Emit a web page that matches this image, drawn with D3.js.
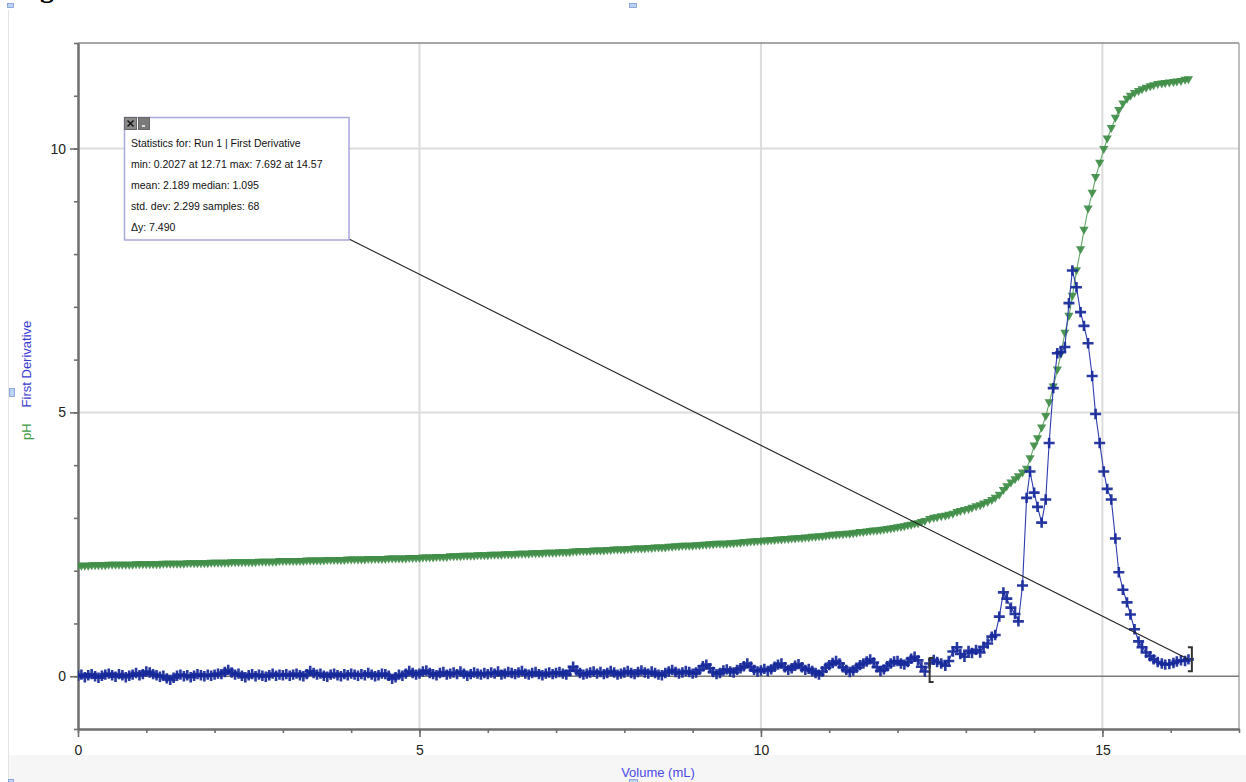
<!DOCTYPE html>
<html><head><meta charset="utf-8">
<script src="https://cdn.jsdelivr.net/npm/d3@7"></script>
<style>html,body{margin:0;padding:0;background:#fff;overflow:hidden;} svg{display:block;}</style>
</head><body>
<svg id="chart" width="1246" height="782"></svg>
<script>
// ---------- DATA ----------
const volume = [
0,0.05,0.1,0.15,0.2,0.25,0.3,0.35,0.4,0.45,0.5,0.55,0.6,0.65,0.7,0.75,0.8,0.85,0.9,0.95,
1,1.05,1.1,1.15,1.2,1.25,1.3,1.35,1.4,1.45,1.5,1.55,1.6,1.65,1.7,1.75,1.8,1.85,1.9,1.95,
2,2.05,2.1,2.15,2.2,2.25,2.3,2.35,2.4,2.45,2.5,2.55,2.6,2.65,2.7,2.75,2.8,2.85,2.9,2.95,
3,3.05,3.1,3.15,3.2,3.25,3.3,3.35,3.4,3.45,3.5,3.55,3.6,3.65,3.7,3.75,3.8,3.85,3.9,3.95,
4,4.05,4.1,4.15,4.2,4.25,4.3,4.35,4.4,4.45,4.5,4.55,4.6,4.65,4.7,4.75,4.8,4.85,4.9,4.95,
5,5.05,5.1,5.15,5.2,5.25,5.3,5.35,5.4,5.45,5.5,5.55,5.6,5.65,5.7,5.75,5.8,5.85,5.9,5.95,
6,6.05,6.1,6.15,6.2,6.25,6.3,6.35,6.4,6.45,6.5,6.55,6.6,6.65,6.7,6.75,6.8,6.85,6.9,6.95,
7,7.05,7.1,7.15,7.2,7.25,7.3,7.35,7.4,7.45,7.5,7.55,7.6,7.65,7.7,7.75,7.8,7.85,7.9,7.95,
8,8.05,8.1,8.15,8.2,8.25,8.3,8.35,8.4,8.45,8.5,8.55,8.6,8.65,8.7,8.75,8.8,8.85,8.9,8.95,
9,9.05,9.1,9.15,9.2,9.25,9.3,9.35,9.4,9.45,9.5,9.55,9.6,9.65,9.7,9.75,9.8,9.85,9.9,9.95,
10,10.05,10.1,10.15,10.2,10.25,10.3,10.35,10.4,10.45,10.5,10.55,10.6,10.65,10.7,10.75,10.8,10.85,10.9,10.95,
11,11.05,11.1,11.15,11.2,11.25,11.3,11.35,11.4,11.45,11.5,11.55,11.6,11.65,11.7,11.75,11.8,11.85,11.9,11.95,
12,12.05,12.1,12.15,12.2,12.25,12.3,12.35,12.4,
12.47,12.53,12.58,12.64,12.7,12.75,12.81,12.87,12.92,12.98,
13.04,13.09,13.15,13.21,13.26,13.32,13.38,13.43,13.49,13.55,
13.6,13.66,13.72,13.77,13.83,13.89,13.94,14,14.05,14.11,
14.17,14.22,14.28,14.34,14.39,14.45,14.51,14.56,14.62,14.68,
14.73,14.79,14.85,14.9,14.96,15.02,15.07,15.13,15.19,15.24,
15.3,15.36,15.41,15.47,15.53,15.58,15.64,15.7,15.75,15.81,
15.87,15.92,15.98,16.04,16.09,16.15,16.21,16.26
];
const pH = [
2.08,2.08,2.08,2.08,2.09,2.09,2.09,2.09,2.09,2.10,2.10,2.10,2.10,2.10,2.10,2.10,2.10,2.11,2.11,2.11,
2.11,2.11,2.11,2.11,2.11,2.12,2.12,2.12,2.12,2.12,2.12,2.12,2.13,2.13,2.13,2.13,2.13,2.13,2.13,2.14,
2.14,2.14,2.14,2.14,2.14,2.15,2.15,2.15,2.15,2.15,2.15,2.15,2.15,2.16,2.16,2.16,2.16,2.16,2.16,2.17,
2.17,2.17,2.17,2.17,2.17,2.17,2.17,2.18,2.18,2.18,2.18,2.18,2.18,2.19,2.19,2.19,2.19,2.19,2.19,2.20,
2.20,2.20,2.20,2.20,2.20,2.21,2.21,2.21,2.21,2.21,2.21,2.22,2.22,2.22,2.22,2.22,2.22,2.23,2.23,2.23,
2.23,2.24,2.24,2.24,2.24,2.25,2.25,2.25,2.25,2.26,2.26,2.26,2.26,2.27,2.27,2.27,2.27,2.28,2.28,2.28,
2.28,2.29,2.29,2.29,2.29,2.30,2.30,2.30,2.30,2.31,2.31,2.31,2.31,2.32,2.32,2.32,2.32,2.33,2.33,2.33,
2.33,2.34,2.34,2.34,2.34,2.35,2.35,2.36,2.36,2.36,2.36,2.37,2.37,2.37,2.37,2.38,2.38,2.39,2.39,2.39,
2.39,2.40,2.40,2.41,2.41,2.41,2.41,2.42,2.42,2.43,2.43,2.43,2.43,2.44,2.44,2.45,2.45,2.46,2.46,2.46,
2.46,2.47,2.47,2.48,2.48,2.49,2.49,2.50,2.50,2.50,2.50,2.51,2.51,2.52,2.52,2.53,2.53,2.54,2.54,2.55,
2.55,2.56,2.56,2.57,2.57,2.58,2.58,2.59,2.59,2.60,2.60,2.61,2.61,2.62,2.62,2.63,2.63,2.64,2.64,2.65,
2.66,2.67,2.67,2.68,2.68,2.69,2.69,2.70,2.71,2.72,2.72,2.73,2.74,2.75,2.75,2.76,2.77,2.78,2.79,2.80,
2.81,2.82,2.83,2.85,2.86,2.88,2.89,2.91,2.93,
2.97,2.99,3.00,3.02,3.03,3.05,3.07,3.10,3.12,3.14,
3.16,3.18,3.21,3.23,3.26,3.29,3.33,3.37,3.43,3.52,
3.59,3.66,3.72,3.78,3.85,3.92,4.12,4.36,4.50,4.70,
4.92,5.18,5.48,5.80,6.10,6.50,6.82,7.20,7.68,8.08,
8.45,8.85,9.15,9.45,9.72,9.98,10.18,10.38,10.57,10.72,
10.84,10.93,10.99,11.04,11.08,11.11,11.14,11.17,11.19,11.21,
11.22,11.23,11.24,11.25,11.26,11.27,11.29,11.30
];
const firstDerivative = [
0.01,0.03,-0.02,0.02,0.04,0.00,-0.03,0.01,0.03,0.05,0.02,-0.01,0.04,0.02,-0.02,0.01,0.03,0.06,0.02,0.04,
0.09,0.07,0.04,0.02,-0.01,0.01,-0.04,-0.07,-0.03,0.01,0.03,0.00,0.02,-0.02,0.01,0.04,0.02,0.00,0.03,0.01,
0.03,0.05,0.04,0.08,0.12,0.07,0.03,0.05,0.01,-0.02,0.02,0.04,0.00,0.03,0.01,-0.01,0.02,0.05,0.01,0.03,
0.02,0.04,0.01,0.03,0.05,0.02,0.00,0.04,0.10,0.06,0.03,0.05,0.01,-0.01,0.03,0.05,0.02,0.00,0.04,0.02,
0.05,0.03,0.01,0.04,0.02,0.06,0.03,0.00,0.02,0.05,0.04,0.01,-0.05,-0.02,0.03,0.01,0.05,0.10,0.06,0.03,
0.05,0.09,0.11,0.06,0.04,0.02,0.06,0.08,0.03,0.05,0.07,0.04,0.09,0.05,0.01,0.04,0.07,0.05,0.03,0.06,
0.04,0.07,0.05,0.09,0.03,0.05,0.08,0.06,0.04,0.07,0.10,0.05,0.03,0.06,0.08,0.04,0.02,0.05,0.07,0.04,
0.06,0.08,0.05,0.03,0.10,0.18,0.11,0.06,0.03,0.05,0.07,0.09,0.05,0.08,0.04,0.06,0.10,0.07,0.03,0.05,
0.07,0.10,0.06,0.04,0.08,0.11,0.07,0.05,0.09,0.06,0.03,0.02,0.06,0.09,0.12,0.08,0.05,0.07,0.10,0.08,
0.05,0.07,0.12,0.19,0.22,0.15,0.08,0.04,0.06,0.11,0.13,0.09,0.07,0.12,0.15,0.19,0.24,0.18,0.12,0.09,
0.11,0.14,0.10,0.13,0.18,0.22,0.24,0.17,0.12,0.15,0.20,0.23,0.17,0.12,0.14,0.10,0.06,0.03,0.09,0.16,
0.21,0.25,0.29,0.24,0.17,0.12,0.08,0.11,0.16,0.21,0.24,0.28,0.32,0.26,0.17,0.10,0.13,0.19,0.24,0.28,
0.29,0.24,0.22,0.27,0.33,0.37,0.30,0.18,0.09,
0.24,0.31,0.27,0.24,0.20,0.29,0.47,0.55,0.42,0.37,
0.48,0.44,0.50,0.45,0.56,0.62,0.75,0.78,1.13,1.59,
1.47,1.30,1.18,1.04,1.72,3.38,3.88,3.48,3.21,2.91,
3.35,4.42,5.46,6.12,6.14,6.24,7.07,7.69,7.37,6.90,
6.64,6.31,5.69,4.97,4.42,3.88,3.55,3.35,2.61,1.97,
1.64,1.40,1.17,0.89,0.66,0.55,0.45,0.38,0.32,0.27,
0.24,0.22,0.23,0.25,0.28,0.30,0.29,0.32
];
const xMajorTicks = [0, 5, 10, 15];
const xMinorTicks = [0,1,2,3,4,5,6,7,8,9,10,11,12,13,14,15,16,17];
const yMajorTicks = [0, 5, 10];
const yMinorTicks = [-1,0,1,2,3,4,5,6,7,8,9,10,11,12];
const xDomain = [0, 17];
const yDomain = [-1, 12];
const xLabel = "Volume (mL)";
const yLabelPH = "pH";
const yLabelDeriv = "First Derivative";
const selection = [12.47, 16.26];
const statsLines = [
  "Statistics for: Run 1 | First Derivative",
  "min: 0.2027 at 12.71 max: 7.692 at 14.57",
  "mean: 2.189 median: 1.095",
  "std. dev: 2.299 samples: 68",
  "\u0394y: 7.490"
];
const titleText = "Figure 1";

// ---------- DRAW ----------
(function () {
const svg = d3.select("#chart");
const W = 1246, H = 782;
const pL = 78, pR = 1239, pT = 43, pB = 729;
const FONT = "'Liberation Sans', Arial, Helvetica, sans-serif";

const x = d3.scaleLinear().domain(xDomain).range([pL, pR]);
const y = d3.scaleLinear().domain(yDomain).range([pB, pT]);

// page decorations
svg.append("rect").attr("x", 8).attr("y", 755).attr("width", W - 8).attr("height", H - 755).attr("fill", "#f6f6f6");
svg.append("line").attr("x1", 8.5).attr("x2", 8.5).attr("y1", 10).attr("y2", H).attr("stroke", "#e4e4e4").attr("stroke-width", 1);
svg.append("text").attr("x", 15).attr("y", -3).attr("font-family", "'Liberation Serif', 'DejaVu Serif', serif")
  .attr("font-weight", "bold").attr("font-size", 28).attr("fill", "#000").text(titleText);
[[7,3,6,4],[629,3,7,4],[9,388,5,8],[629,779,8,4],[8,779,5,3]].forEach(r => {
  svg.append("rect").attr("x", r[0] + 0.5).attr("y", r[1] + 0.5).attr("width", r[2]).attr("height", r[3])
    .attr("fill", "#bcd3f3").attr("stroke", "#7b97d6").attr("stroke-width", 0.8);
});

// grid
const grid = svg.append("g");
grid.selectAll(".gx").data(xMajorTicks.filter(d => d > 0)).join("line")
  .attr("x1", d => x(d)).attr("x2", d => x(d)).attr("y1", pT).attr("y2", pB)
  .attr("stroke", "#dcdcdc").attr("stroke-width", 2);
grid.selectAll(".gy").data(yMajorTicks.filter(d => d > 0)).join("line")
  .attr("x1", pL).attr("x2", pR).attr("y1", d => y(d)).attr("y2", d => y(d))
  .attr("stroke", "#dcdcdc").attr("stroke-width", 2);

// frame top/right
svg.append("line").attr("x1", pL).attr("x2", pR).attr("y1", pT).attr("y2", pT).attr("stroke", "#8a8a8a").attr("stroke-width", 1.5);
svg.append("line").attr("x1", pR).attr("x2", pR).attr("y1", pT).attr("y2", pB).attr("stroke", "#a8a8a8").attr("stroke-width", 1.5);

// zero line
svg.append("line").attr("x1", pL).attr("x2", pR).attr("y1", y(0)).attr("y2", y(0))
  .attr("stroke", "#7a7a7a").attr("stroke-width", 1.6);

// axes
function styleAxis(g) {
  g.select(".domain").attr("stroke", "#6e6e6e").attr("stroke-width", 2);
  g.selectAll(".tick line").attr("stroke", "#6e6e6e").attr("stroke-width", 1.6);
  g.selectAll(".tick text").attr("font-family", FONT).attr("font-size", 14).attr("fill", "#222");
}
const xMinor = svg.append("g").attr("transform", `translate(0,${pB})`)
  .call(d3.axisBottom(x).tickValues(xMinorTicks).tickSize(4).tickFormat("").tickSizeOuter(0));
styleAxis(xMinor);
const xMajor = svg.append("g").attr("transform", `translate(0,${pB})`)
  .call(d3.axisBottom(x).tickValues(xMajorTicks).tickSize(8).tickPadding(8).tickFormat(d3.format("d")).tickSizeOuter(0));
styleAxis(xMajor);
const yMinor = svg.append("g").attr("transform", `translate(${pL},0)`)
  .call(d3.axisLeft(y).tickValues(yMinorTicks).tickSize(4).tickFormat("").tickSizeOuter(0));
styleAxis(yMinor);
const yMajor = svg.append("g").attr("transform", `translate(${pL},0)`)
  .call(d3.axisLeft(y).tickValues(yMajorTicks).tickSize(8).tickPadding(4).tickFormat(d3.format("d")).tickSizeOuter(0));
styleAxis(yMajor);

// axis labels
svg.append("text").attr("x", 658).attr("y", 777).attr("text-anchor", "middle")
  .attr("font-family", FONT).attr("font-size", 13).attr("fill", "#4a4ae6").text(xLabel);
const yl = svg.append("text").attr("transform", "translate(31,440) rotate(-90)")
  .attr("font-family", FONT).attr("font-size", 13);
yl.append("tspan").attr("fill", "#3f9a45").text(yLabelPH);
yl.append("tspan").attr("dx", 16).attr("fill", "#3a3ad2").text(yLabelDeriv);

// clip
svg.append("clipPath").attr("id", "plotclip").append("rect")
  .attr("x", pL).attr("y", pT).attr("width", pR - pL).attr("height", pB - pT);
const plot = svg.append("g").attr("clip-path", "url(#plotclip)");

const idx = d3.range(volume.length);

// pH series
const phLine = d3.line().x(i => x(volume[i])).y(i => y(pH[i]));
plot.append("path").datum(idx).attr("d", phLine).attr("fill", "none")
  .attr("stroke", "#63a868").attr("stroke-width", 1.1);
plot.append("g").selectAll("path").data(idx).join("path")
  .attr("transform", i => `translate(${x(volume[i])},${y(pH[i])})`)
  .attr("d", "M-4.6,-3.6L4.6,-3.6L0,4.4Z")
  .attr("fill", "#3f8d47").attr("fill-opacity", 0.92);

// derivative series
const dLine = d3.line().x(i => x(volume[i])).y(i => y(firstDerivative[i]));
plot.append("path").datum(idx).attr("d", dLine).attr("fill", "none")
  .attr("stroke", "#2c3cae").attr("stroke-width", 1.1);
plot.append("g").selectAll("path").data(idx).join("path")
  .attr("transform", i => `translate(${x(volume[i])},${y(firstDerivative[i])})`)
  .attr("d", "M-5.5,0H5.5M0,-5.2V5.2")
  .attr("stroke", "#16289a").attr("stroke-width", 2.6).attr("stroke-opacity", 0.92).attr("fill", "none");

// selection brackets
const iStart = volume.indexOf(selection[0]);
const iEnd = volume.indexOf(selection[1]);
function bracket(xv, yv, dir) {
  const px = x(xv), py = y(yv);
  const h = 12, s = 4 * dir;
  svg.append("path")
    .attr("d", `M${px + s},${py - h}H${px}V${py + h}H${px + s}`)
    .attr("fill", "none").attr("stroke", "#333").attr("stroke-width", 2);
}
bracket(selection[0], firstDerivative[iStart] - 0.12, 1);
bracket(selection[1] + 0.05, firstDerivative[iEnd], -1);

// stats box
const bx = 124.5, by = 117.5, bw = 224.5, bh = 122.5;
svg.append("line").attr("x1", bx + bw).attr("y1", by + bh - 1)
  .attr("x2", x(selection[1])).attr("y2", y(firstDerivative[iEnd]))
  .attr("stroke", "#222").attr("stroke-width", 1.1);
svg.append("rect").attr("x", bx).attr("y", by).attr("width", bw).attr("height", bh)
  .attr("fill", "#fff").attr("stroke", "#a9a9dc").attr("stroke-width", 1.5);
svg.append("rect").attr("x", 124.5).attr("y", 117.5).attr("width", 12).attr("height", 12).attr("fill", "#8a8a8a").attr("stroke", "#666");
svg.append("path").attr("d", "M127.5,120.5L133.5,126.5M133.5,120.5L127.5,126.5").attr("stroke", "#111").attr("stroke-width", 1.4);
svg.append("rect").attr("x", 138.5).attr("y", 117.5).attr("width", 11).attr("height", 12).attr("fill", "#7a7a7a").attr("stroke", "#666");
svg.append("rect").attr("x", 142).attr("y", 125).attr("width", 3).attr("height", 2).attr("fill", "#ddd");
svg.append("g").selectAll("text").data(statsLines).join("text")
  .attr("x", 131).attr("y", (d, i) => 146.5 + i * 21.1)
  .attr("font-family", FONT).attr("font-size", 10.5).attr("fill", "#111").text(d => d);
})();
</script>
</body></html>
